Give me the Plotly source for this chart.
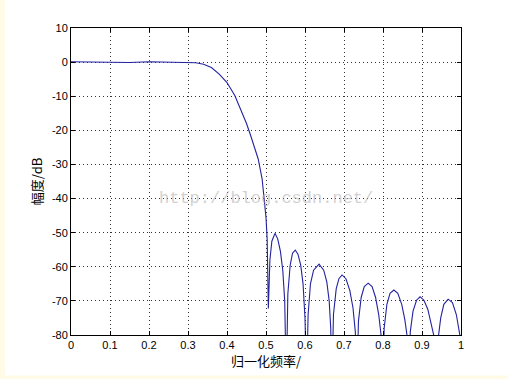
import plotly.graph_objects as go

# normalized frequency and magnitude (dB)
freq = [0.00, 0.05, 0.10, 0.15, 0.20, 0.25, 0.28, 0.30, 0.32, 0.34, 0.36, 0.38,
        0.40, 0.42, 0.44, 0.45, 0.46, 0.47, 0.48, 0.49, 0.495, 0.500, 0.503, 0.506,
        0.510, 0.515, 0.523, 0.530, 0.537, 0.543, 0.548, 0.552,
        0.556, 0.562, 0.568, 0.575, 0.582, 0.589, 0.595, 0.600, 0.604,
        0.608, 0.614, 0.622, 0.636, 0.648, 0.656, 0.662, 0.666, 0.669,
        0.673, 0.680, 0.687, 0.695, 0.705, 0.715, 0.723, 0.729, 0.733,
        0.737, 0.744, 0.752, 0.762, 0.772, 0.781, 0.789, 0.795, 0.799,
        0.803, 0.810, 0.818, 0.828, 0.838, 0.848, 0.856, 0.862, 0.866,
        0.870, 0.877, 0.886, 0.895, 0.905, 0.915, 0.924, 0.931, 0.937,
        0.942, 0.948, 0.956, 0.967, 0.978, 0.988, 0.995, 1.000]
mag_db = [0.1, 0.0, 0.1, -0.1, 0.1, 0.0, 0.1, 0.0, -0.2, -0.6, -1.6, -3.5,
          -6.0, -9.8, -15.0, -18.0, -21.3, -24.6, -28.4, -34.2, -39.6, -45.5, -52.0, -72.2,
          -58.0, -52.5, -50.2, -51.8, -55.5, -61.0, -70.0, -95,
          -68.0, -59.5, -56.0, -55.1, -56.3, -59.5, -65.0, -75.0, -95,
          -74.0, -65.0, -61.0, -59.2, -61.0, -64.5, -70.0, -78.0, -95,
          -74.0, -66.5, -63.5, -62.4, -63.5, -67.0, -72.0, -79.0, -95,
          -76.0, -69.0, -65.8, -64.8, -65.8, -69.0, -74.0, -80.0, -95,
          -78.0, -71.0, -67.8, -66.8, -67.8, -71.0, -75.5, -80.5, -95,
          -79.0, -73.0, -69.8, -68.8, -69.8, -72.5, -76.5, -80.5, -95,
          -80.5, -75.0, -71.0, -69.5, -70.5, -74.0, -78.5, -82.0]

x_ticks = [0, 0.1, 0.2, 0.3, 0.4, 0.5, 0.6, 0.7, 0.8, 0.9, 1]
x_tick_labels = ["0", "0.1", "0.2", "0.3", "0.4", "0.5", "0.6", "0.7", "0.8", "0.9", "1"]
y_ticks = [10, 0, -10, -20, -30, -40, -50, -60, -70, -80]
y_tick_labels = ["10", "0", "-10", "-20", "-30", "-40", "-50", "-60", "-70", "-80"]

x_title = "归一化频率/"
y_title = "幅度/dB"
watermark = "http://blog.csdn.net/"

fig = go.Figure()
fig.add_trace(go.Scatter(x=freq, y=mag_db, mode="lines",
                         line=dict(color="#2323a0", width=1.1),
                         showlegend=False, hoverinfo="skip"))

axis_common = dict(
    showline=True, linecolor="black", linewidth=1, mirror="ticks",
    ticks="inside", ticklen=4, tickcolor="black", tickwidth=1,
    showgrid=True, gridcolor="rgba(0,0,0,0.8)", griddash="1px,3px", gridwidth=1,
    zeroline=False,
    tickfont=dict(family="Liberation Sans, Arial", size=11, color="black"),
)

fig.update_xaxes(range=[0, 1], tickvals=x_ticks, ticktext=x_tick_labels,
                 title=dict(text=x_title, standoff=4,
                            font=dict(family="Noto Sans CJK SC", size=13, color="black")),
                 **axis_common)
fig.update_yaxes(range=[-80, 10], tickvals=y_ticks, ticktext=y_tick_labels,
                 title=dict(text=y_title, standoff=6,
                            font=dict(family="Noto Sans CJK SC", size=13, color="black")),
                 **axis_common)

fig.add_annotation(x=0.5, y=-40, xref="x", yref="y", text=watermark, showarrow=False,
                   font=dict(family="Liberation Mono", size=17, color="rgba(170,170,170,0.55)"))

# cream frame strips at left and bottom
fig.add_shape(type="rect", xref="paper", yref="paper", x0=-0.19, x1=-0.169,
              y0=-0.2, y1=1.2, fillcolor="#fffbe6", line_width=0, layer="below")
fig.add_shape(type="rect", xref="paper", yref="paper", x0=-0.19, x1=1.2,
              y0=-0.143, y1=-0.132, fillcolor="#fffbe6", line_width=0, layer="below")

fig.update_layout(
    width=508, height=379,
    margin=dict(l=71, r=47, t=28, b=44),
    paper_bgcolor="white", plot_bgcolor="white",
    font=dict(family="Liberation Sans, Arial", size=11, color="black"),
)

fig.write_html("out.html", config={"displayModeBar": False},
               post_script="document.body.style.margin='0';")
